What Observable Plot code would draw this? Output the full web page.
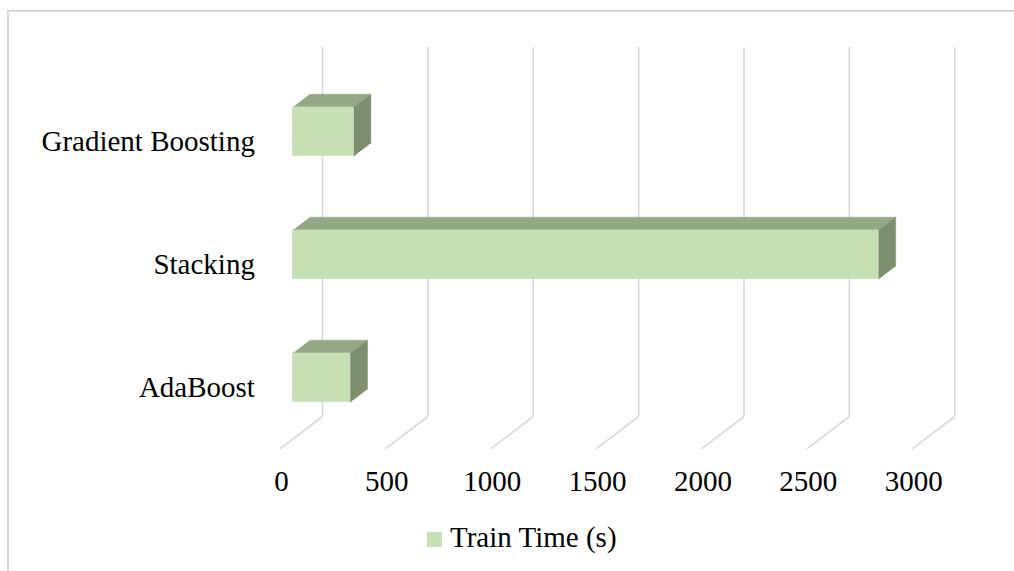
<!DOCTYPE html>
<html>
<head>
<meta charset="utf-8">
<script src="https://cdn.jsdelivr.net/npm/d3@7"></script>
<script src="https://cdn.jsdelivr.net/npm/@observablehq/plot@0.6"></script>
<style>
  html, body { margin: 0; padding: 0; background: #fff; width: 1014px; height: 571px; overflow: hidden; }
  #frame { position: absolute; left: 7px; top: 10px; width: 1100px; height: 700px;
           border-left: 2px solid #d9d9d9; border-top: 2px solid #d9d9d9; }
  #chart { position: absolute; left: 0; top: 0; }
  #legend { position: absolute; left: 427px; top: 521px; display: flex; align-items: center;
            font-family: "Liberation Serif", "Times New Roman", serif; font-size: 29px; color: #000; }
  #legend .sw { width: 15px; height: 15px; background: #c5e0b4; margin-right: 8px; margin-top: 3px; }
</style>
</head>
<body>
<div id="frame"></div>
<div id="chart"></div>
<div id="legend"><div class="sw"></div><span id="legendText"></span></div>
<script>
// ---- data ----
const categories = ["AdaBoost", "Stacking", "Gradient Boosting"]; // bottom to top
const trainTime = [274, 2780, 290];
const xTicks = [0, 500, 1000, 1500, 2000, 2500, 3000];
const seriesName = "Train Time (s)";

// ---- 3D projection constants (wall -> front), in data units ----
const DX = -202;     // x shift for full depth
const DY = -0.264;   // y shift for full depth
const FRONT = 0.7, BACK = 0.3, HALF = 0.2;

const bars = categories.map((c, i) => ({cat: c, value: trainTime[i], c: i + 0.5}));

const topFaces = [], sideFaces = [];
bars.forEach((b, i) => {
  const yt = b.c + HALF, yb = b.c - HALF;
  topFaces.push(
    {id: i, x: 0 + FRONT * DX, y: yt + FRONT * DY},
    {id: i, x: b.value + FRONT * DX, y: yt + FRONT * DY},
    {id: i, x: b.value + BACK * DX, y: yt + BACK * DY},
    {id: i, x: 0 + BACK * DX, y: yt + BACK * DY}
  );
  sideFaces.push(
    {id: i, x: b.value + FRONT * DX, y: yb + FRONT * DY},
    {id: i, x: b.value + FRONT * DX, y: yt + FRONT * DY},
    {id: i, x: b.value + BACK * DX, y: yt + BACK * DY},
    {id: i, x: b.value + BACK * DX, y: yb + BACK * DY}
  );
});

const font = "'Liberation Serif', 'Times New Roman', serif";
const grid = "#d9d9d9";

const plot = Plot.plot({
  width: 1014,
  height: 510,
  x: {domain: [0, 3000], range: [322, 954.3], axis: null},
  y: {domain: [0, 3], range: [416, 47], axis: null},
  style: {background: "transparent", fontFamily: font},
  marks: [
    Plot.ruleX(xTicks, {x: d => d, y1: 0, y2: 3, stroke: grid, strokeWidth: 1.6}),
    Plot.link(xTicks, {x1: d => d, y1: 0, x2: d => d + DX, y2: DY, stroke: grid, strokeWidth: 1.6}),
    Plot.text(xTicks, {x: d => d + DX, y: DY, dy: 33, dx: 1.5, text: d => String(d),
      fontSize: 29, fill: "#000", fontFamily: font}),
    Plot.text(bars, {x: DX, y: d => d.c + DY, text: "cat", textAnchor: "end", dx: -25,
      fontSize: 29, fill: "#000", fontFamily: font}),
    Plot.line(topFaces, {x: "x", y: "y", z: "id", fill: "#94a886", stroke: "#94a886", strokeWidth: 0.5}),
    Plot.line(sideFaces, {x: "x", y: "y", z: "id", fill: "#7e8f6e", stroke: "#7e8f6e", strokeWidth: 0.5}),
    Plot.rect(bars, {
      x1: () => 0 + FRONT * DX, x2: d => d.value + FRONT * DX,
      y1: d => d.c - HALF + FRONT * DY, y2: d => d.c + HALF + FRONT * DY,
      fill: "#c5e0b4"
    })
  ]
});
document.getElementById("chart").appendChild(plot);
document.getElementById("legendText").textContent = seriesName;
</script>
</body>
</html>
